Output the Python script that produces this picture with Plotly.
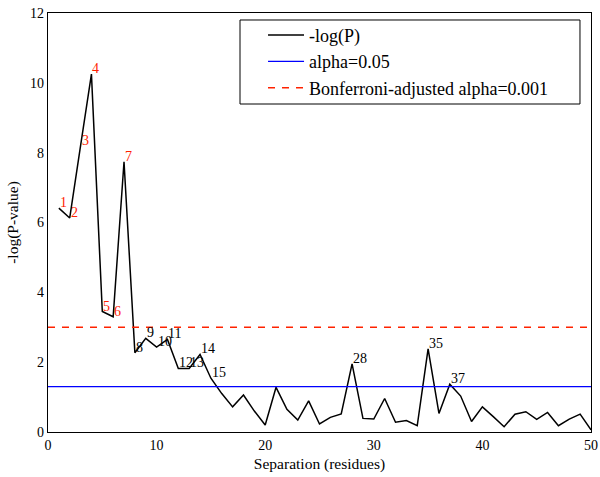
import plotly.graph_objects as go

separation = list(range(1, 51))
neg_log_p = [
    6.41, 6.13, 8.2, 10.25, 3.45, 3.30, 7.74, 2.27, 2.68, 2.43,
    2.65, 1.82, 1.82, 2.22, 1.54, 1.1, 0.72, 1.06, 0.6, 0.2,
    1.28, 0.65, 0.34, 0.89, 0.23, 0.42, 0.52, 1.95, 0.39, 0.37,
    0.96, 0.28, 0.33, 0.18, 2.38, 0.53, 1.37, 1.03, 0.30, 0.72,
    0.44, 0.15, 0.51, 0.58, 0.36, 0.56, 0.18, 0.37, 0.51, 0.06,
]
alpha_level = 1.3
bonferroni_level = 3.0

font = "Liberation Serif, DejaVu Serif, serif"

fig = go.Figure()
fig.add_trace(go.Scatter(x=separation, y=neg_log_p, mode="lines",
                         line=dict(color="black", width=1.5), name="-log(P)"))
fig.add_trace(go.Scatter(x=[0, 50], y=[alpha_level, alpha_level], mode="lines",
                         line=dict(color="#0000ff", width=1.3), name="alpha=0.05"))
fig.add_trace(go.Scatter(x=[0, 50], y=[bonferroni_level, bonferroni_level], mode="lines",
                         line=dict(color="#ff2200", width=1.3, dash="7px,7px"),
                         name="Bonferroni-adjusted alpha=0.001"))

# label the points above alpha=0.05 (red if above the Bonferroni line)
for s, v in zip(separation, neg_log_p):
    if v > alpha_level:
        fig.add_annotation(x=s, y=v, text=str(s), showarrow=False,
                           xanchor="left", yanchor="bottom", xshift=-1, yshift=-4,
                           font=dict(family=font, size=14,
                                     color="#ff2200" if v > bonferroni_level else "black"))

# legend frame (drawn as a shape so it can be wider than plotly's own box)
fig.add_shape(type="rect", xref="paper", yref="paper",
              x0=0.3536, x1=0.9797, y0=0.7828, y1=0.9833,
              line=dict(color="black", width=1), fillcolor="white", layer="below")

fig.update_layout(
    width=600, height=477,
    margin=dict(l=48, r=9, t=13, b=45, autoexpand=False),
    plot_bgcolor="white", paper_bgcolor="white",
    font=dict(family=font, size=14, color="black"),
    legend=dict(x=0.396, y=0.991, xanchor="left", yanchor="top",
                borderwidth=0, bgcolor="rgba(0,0,0,0)", itemwidth=36,
                font=dict(size=18), tracegroupgap=0),
)
fig.update_xaxes(range=[0, 50], dtick=10, showgrid=False, zeroline=False,
                 showline=True, linecolor="black", linewidth=1.3, mirror=True,
                 ticks="", automargin=False,
                 title=dict(text="Separation (residues)", standoff=6, font=dict(size=15.5)))
fig.update_yaxes(range=[0, 12], dtick=2, showgrid=False, zeroline=False,
                 showline=True, linecolor="black", linewidth=1.3, mirror=True,
                 ticks="", automargin=False,
                 title=dict(text="-log(P-value)", standoff=7, font=dict(size=15.5)))

fig.write_html("out.html", config={"displayModeBar": False},
               post_script="document.body.style.margin='0';")
